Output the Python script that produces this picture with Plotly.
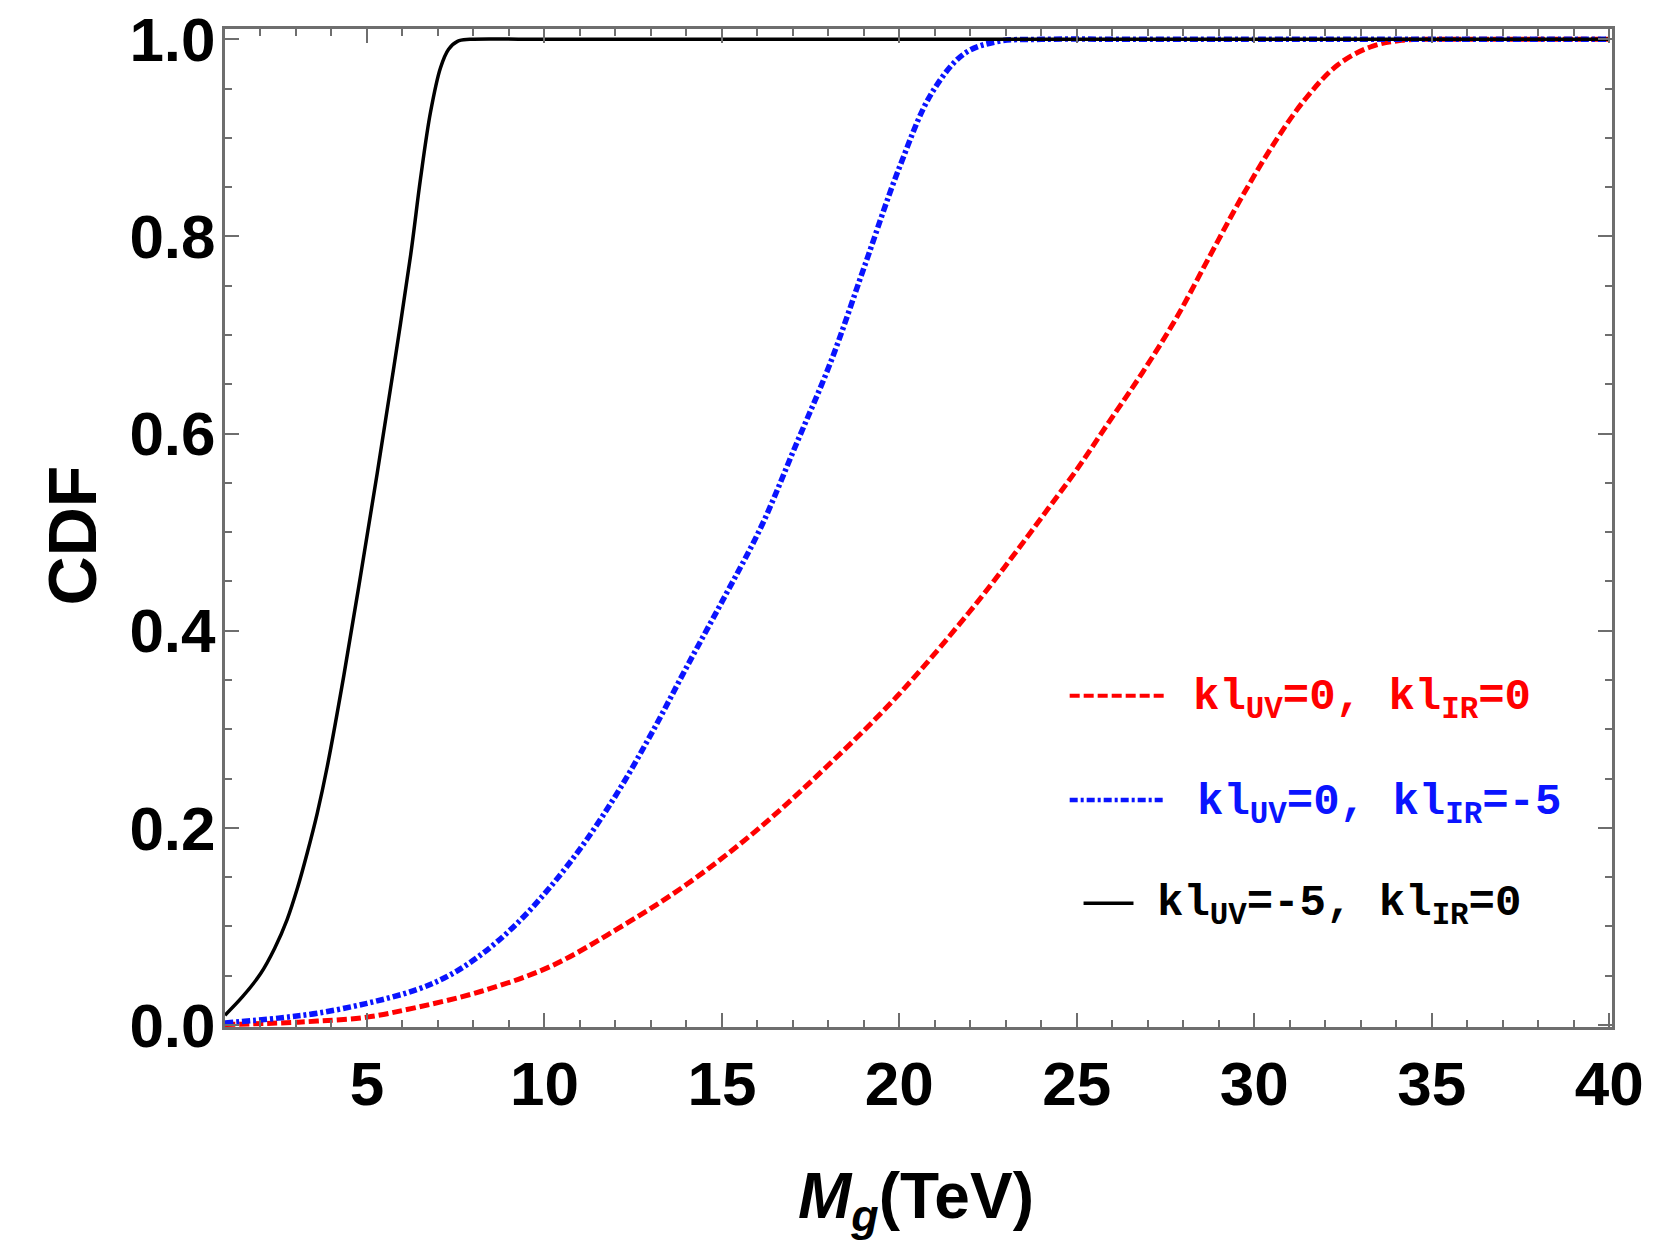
import plotly.graph_objects as go

# ---- data ----
x_black = [1.0, 1.5, 2.0, 2.4, 2.75, 3.05, 3.32, 3.6, 3.88, 4.35, 4.82, 5.29, 5.76, 6.23, 6.51, 6.79, 7.07, 7.3, 7.55, 7.9, 10.0, 40.0]
y_black = [0.010, 0.029, 0.052, 0.078, 0.107, 0.140, 0.175, 0.215, 0.262, 0.355, 0.456, 0.560, 0.668, 0.781, 0.859, 0.926, 0.971, 0.990, 0.998, 1.0, 1.0, 1.0]

x_blue = [1.0, 2.5, 3.6, 5.0, 6.41, 7.3, 8.2, 9.17, 10.14, 11.11, 12.08, 13.05, 14.02, 15.1, 16.1,
          17.08, 18.07, 19.03, 19.98, 20.92, 21.85, 22.8, 24.0, 27.0, 40.0]
y_blue = [0.002, 0.007, 0.012, 0.022, 0.036, 0.050, 0.071, 0.101, 0.139, 0.184, 0.237, 0.298, 0.364, 0.436, 0.505,
          0.588, 0.673, 0.771, 0.868, 0.946, 0.986, 0.998, 1.0, 1.0, 1.0]

x_red = [1.0, 2.5, 3.6, 5.0, 6.41, 8.2, 10.14, 12.08, 14.02, 15.96, 17.95, 19.95, 21.95, 23.1, 24.03,
         24.97, 25.91, 26.85, 27.8, 28.73, 29.65, 30.55, 31.45, 32.35, 33.25, 34.15, 35.5, 37.0, 40.0]
y_red = [0.0005, 0.002, 0.004, 0.008, 0.018, 0.034, 0.059, 0.098, 0.143, 0.197, 0.262, 0.334, 0.418, 0.471, 0.516,
         0.562, 0.612, 0.662, 0.717, 0.779, 0.840, 0.894, 0.940, 0.974, 0.992, 0.999, 1.0, 1.0, 1.0]

labels = ["kl<sub>UV</sub>=0, kl<sub>IR</sub>=0",
          "kl<sub>UV</sub>=0, kl<sub>IR</sub>=-5",
          "kl<sub>UV</sub>=-5, kl<sub>IR</sub>=0"]

x_ticks = [5, 10, 15, 20, 25, 30, 35, 40]
y_ticks = [0.0, 0.2, 0.4, 0.6, 0.8, 1.0]

RED = "#ff0000"
BLUE = "#0a14ff"
BLACK = "#000000"
FRAME = "#6e6e6e"
SANS = "Liberation Sans, Arial, sans-serif"
MONO = "Liberation Mono, Courier New, DejaVu Sans Mono, monospace"
RED_DASH = "10px,4px"
BLUE_DASH = "8px,3px,3px,3px"

fig = go.Figure()
fig.add_trace(go.Scatter(x=x_red, y=y_red, mode="lines", name=labels[0],
                         line=dict(color=RED, width=5, dash=RED_DASH, shape="spline", smoothing=1.0)))
fig.add_trace(go.Scatter(x=x_blue, y=y_blue, mode="lines", name=labels[1],
                         line=dict(color=BLUE, width=5.5, dash=BLUE_DASH, shape="spline", smoothing=1.0)))
fig.add_trace(go.Scatter(x=x_black, y=y_black, mode="lines", name=labels[2],
                         line=dict(color=BLACK, width=3.5, shape="spline", smoothing=1.0)))

axis_common = dict(
    showline=True, linecolor=FRAME, linewidth=3, mirror="allticks",
    ticks="inside", ticklen=14, tickwidth=2, tickcolor=FRAME,
    showgrid=False, zeroline=False, ticklabeloverflow="allow", automargin=False,
    tickfont=dict(family=SANS, size=62, color="black", weight="bold"),
)

fig.update_xaxes(range=[1.0, 40.08], tickvals=x_ticks, ticktext=[str(v) for v in x_ticks],
                 minor=dict(ticks="inside", dtick=1, tick0=0, ticklen=7, tickwidth=2, tickcolor=FRAME),
                 ticklabelstandoff=1, **axis_common)
fig.update_yaxes(range=[-0.002, 1.0105], tickvals=y_ticks, ticktext=["%.1f" % v for v in y_ticks],
                 minor=dict(ticks="inside", dtick=0.05, tick0=0, ticklen=7, tickwidth=2, tickcolor=FRAME),
                 ticklabelstandoff=-6, **axis_common)

# legend drawn inside the plot
legend_rows = [
    dict(x0=0.609, x1=0.677, y=0.332, tx=0.6965, ty=0.328, color=RED, dash=RED_DASH, width=4, label=labels[0]),
    dict(x0=0.609, x1=0.677, y=0.2275, tx=0.699, ty=0.2225, color=BLUE, dash=BLUE_DASH, width=4.5, label=labels[1]),
    dict(x0=0.619, x1=0.655, y=0.124, tx=0.6705, ty=0.122, color=BLACK, dash="solid", width=3.5, label=labels[2]),
]
for r in legend_rows:
    fig.add_shape(type="line", xref="paper", yref="paper", x0=r["x0"], x1=r["x1"], y0=r["y"], y1=r["y"],
                  line=dict(color=r["color"], width=r["width"], dash=r["dash"]))
    fig.add_annotation(xref="paper", yref="paper", x=r["tx"], y=r["ty"], xanchor="left", yanchor="middle",
                       text=r["label"], showarrow=False,
                       font=dict(family=MONO, size=44, color=r["color"], weight="bold"))

# axis titles
fig.add_annotation(xref="paper", yref="paper", x=0.498, y=-0.173, xanchor="center", yanchor="middle",
                   text="<i>M<sub>g</sub></i>(TeV)", showarrow=False,
                   font=dict(family=SANS, size=64, color="black", weight="bold"))
fig.add_annotation(xref="paper", yref="paper", x=-0.110, y=0.493, xanchor="center", yanchor="middle",
                   text="CDF", textangle=-90, showarrow=False,
                   font=dict(family=SANS, size=68, color="black", weight="bold"))

fig.update_layout(
    width=1661, height=1248,
    margin=dict(l=225, r=49, t=29, b=221, autoexpand=False),
    paper_bgcolor="white", plot_bgcolor="white",
    showlegend=False,
)

fig.write_html("out.html")
